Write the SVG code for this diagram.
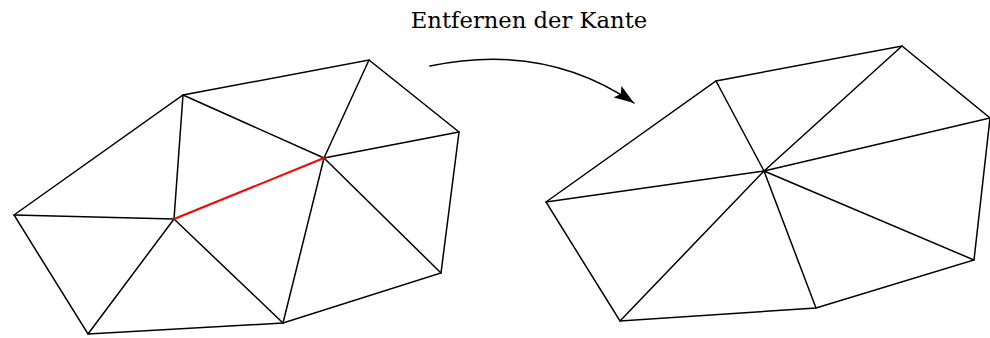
<svg xmlns="http://www.w3.org/2000/svg" width="990" height="338" viewBox="0 0 990 338">
<style>
.e{stroke:#000;stroke-width:1.5;fill:none;stroke-linecap:round}
.r{stroke:#f00;stroke-width:2;fill:none;stroke-linecap:round}
.t{font-family:"DejaVu Serif",serif;font-size:22.7px;fill:#000}
</style>
<defs>
<marker id="ah2" viewBox="0 0 20 14" markerWidth="20" markerHeight="14" refX="20" refY="7" orient="auto" markerUnits="userSpaceOnUse">
<path d="M0,0 L20,7 L0,14 L4,7 Z" fill="#000"/>
</marker>
</defs>
<g id="label"><text class="t" x="529" y="28" text-anchor="middle">Entfernen der Kante</text></g>
<g id="connectors">
<path class="e" d="M430,66 Q545,42 634,103" marker-end="url(#ah2)"/>
</g>
<g id="left-mesh">
<path class="e" d="M14,215 L183,95 L369,60 L459,132 L441,273 L283,323 L88,334 Z"/>
<path class="e" d="M14,215 L174,219 M183,95 L174,219 M88,334 L174,219 M283,323 L174,219"/>
<path class="e" d="M183,95 L324,158 M369,60 L324,158 M459,132 L324,158 M441,273 L324,158 M283,323 L324,158"/>
<path class="r" d="M174,219 L324,158"/>
</g>
<g id="right-mesh">
<path class="e" d="M546,202 L716,81 L902,46 L990,118 L974,260 L816,308 L620,321 Z"/>
<path class="e" d="M764,171 L546,202 M764,171 L716,81 M764,171 L902,46 M764,171 L990,118 M764,171 L974,260 M764,171 L816,308 M764,171 L620,321"/>
</g>
</svg>
